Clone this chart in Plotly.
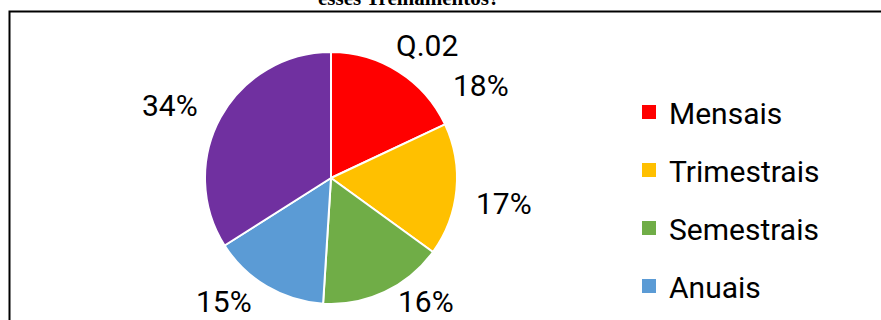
import math
import plotly.graph_objects as go

# ---- data ----
categories = ["Mensais", "Trimestrais", "Semestrais", "Anuais", "Outros"]
values = [18, 17, 16, 15, 34]
colors = ["#FF0000", "#FFC000", "#70AD47", "#5B9BD5", "#7030A0"]
legend_categories = ["Mensais", "Trimestrais", "Semestrais", "Anuais"]
chart_title = "Q.02"
question_tail = "esses Treinamentos?"

# ---- layout constants ----
W, H = 881, 320
FONT = "Roboto, Lato, sans-serif"
cx, cy, r = 331, 178, 126          # pie centre / radius in px
label_gap = 145                      # label corner distance from centre
half_w, half_h = 29, 12              # half size of a label box
label_nudge = [24, 0, -2, 2, -4]     # degrees (best-fit style placement)
bottom_limit = 313


def px(x):
    return x / W


def py(y):
    return 1 - y / H


fig = go.Figure()

fig.add_trace(go.Pie(
    labels=categories, values=values, sort=False, direction="clockwise",
    rotation=0, textinfo="none", showlegend=False,
    marker=dict(colors=colors, line=dict(color="white", width=2)),
    domain=dict(x=[px(cx - r), px(cx + r)], y=[py(cy + r), py(cy - r)]),
    hoverinfo="label+percent",
))

# legend entries (only the four visible ones)
for i, name in enumerate(legend_categories):
    fig.add_trace(go.Scatter(
        x=[None], y=[None], mode="markers", name=name,
        legendgroup=name,
        marker=dict(symbol="square", size=14, color=colors[i]),
    ))

# percentage labels computed from the data
total = sum(values)
cum = 0
annotations = []
for i, v in enumerate(values):
    mid = 360 * (cum + v / 2) / total + label_nudge[i]
    cum += v
    ux, uy = math.sin(math.radians(mid)), -math.cos(math.radians(mid))
    lx = cx + label_gap * ux + half_w * (1 if ux >= 0 else -1)
    ly = cy + label_gap * uy + half_h * (1 if uy >= 0 else -1)
    ly = min(ly, bottom_limit - half_h)
    pct = round(100 * v / total)
    annotations.append(dict(
        x=px(lx), y=py(ly), xref="paper", yref="paper",
        text=f"{pct}%", showarrow=False, xanchor="center", yanchor="middle",
        font=dict(family=FONT, size=30, color="#000000"),
    ))

annotations.append(dict(
    x=px(427), y=py(45), xref="paper", yref="paper", text=chart_title,
    showarrow=False, xanchor="center", yanchor="middle",
    font=dict(family=FONT, size=30, color="#000000"),
))
annotations.append(dict(
    x=px(408), y=py(12), xref="paper", yref="paper",
    text=f"<b>{question_tail}</b>", showarrow=False,
    xanchor="center", yanchor="bottom",
    font=dict(family="Liberation Serif, Times New Roman, serif", size=21, color="#000000"),
))

fig.update_layout(
    width=W, height=H,
    margin=dict(l=0, r=0, t=0, b=0, autoexpand=False),
    paper_bgcolor="white", plot_bgcolor="white",
    xaxis=dict(visible=False), yaxis=dict(visible=False),
    showlegend=True,
    legend=dict(
        x=px(629), y=py(86), xanchor="left", yanchor="top",
        font=dict(family=FONT, size=30, color="#000000"),
        tracegroupgap=16, bgcolor="rgba(0,0,0,0)",
    ),
    annotations=annotations,
    shapes=[dict(
        type="rect", xref="paper", yref="paper",
        x0=px(9.5), x1=1.05, y0=-0.2, y1=py(11.5),
        line=dict(color="black", width=2), fillcolor="rgba(0,0,0,0)",
    )],
)

fig.write_html("out.html")
